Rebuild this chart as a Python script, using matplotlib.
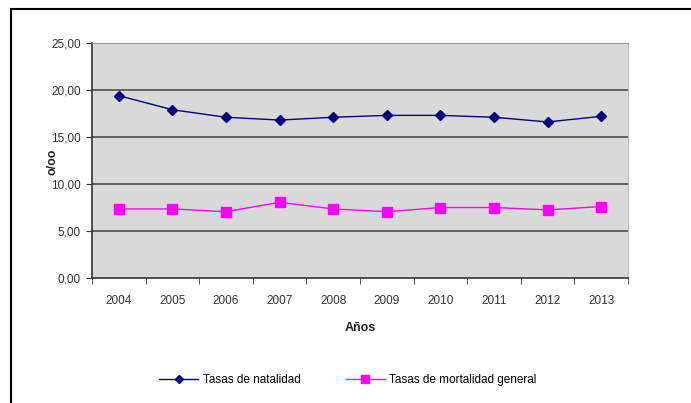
import numpy as np
import matplotlib.pyplot as plt
from matplotlib.lines import Line2D

plt.rcParams['font.family'] = ['Liberation Sans', 'DejaVu Sans']

# Data
years = ['2004', '2005', '2006', '2007', '2008', '2009', '2010', '2011', '2012', '2013']
natalidad = [19.4, 17.9, 17.1, 16.8, 17.1, 17.3, 17.3, 17.1, 16.6, 17.2]
mortalidad = [7.35, 7.35, 7.05, 8.05, 7.35, 7.05, 7.5, 7.5, 7.25, 7.6]
yticks = [0, 5, 10, 15, 20, 25]

W, H = 691, 403
fig = plt.figure(figsize=(W / 100, H / 100), dpi=100)

# outer frame (left and top edges visible)
fig.add_artist(Line2D([11 / W, 11 / W], [0, 1 - 9 / H], color='black', lw=1.5))
fig.add_artist(Line2D([11 / W, 1], [1 - 9 / H, 1 - 9 / H], color='black', lw=1.5))

ax = fig.add_axes([92 / W, 1 - 278 / H, (628 - 92) / W, (278 - 43) / H])
ax.set_facecolor('#d9d9d9')

x = np.arange(len(years))
ax.plot(x, natalidad, color='#000080', lw=1, marker='D', ms=5, label='Tasas de natalidad', zorder=3)
ax.plot(x, mortalidad, color='#ff00ff', lw=1, marker='s', ms=7, label='Tasas de mortalidad general', zorder=3)

ax.set_xlim(-0.5, len(years) - 0.5)
ax.set_ylim(0, 25)
ax.set_yticks(yticks)
ax.set_yticklabels([f'{v:.2f}'.replace('.', ',') for v in yticks])
for v in yticks[1:-1]:
    ax.axhline(v, color='#4d4d4d', lw=1.2, zorder=1)

ax.set_xticks(x)
ax.set_xticklabels(years)
ax.set_xticks(np.arange(-0.5, len(years)), minor=True)
ax.tick_params(axis='x', which='major', length=0, pad=12, labelsize=8.5, colors='#333333')
ax.tick_params(axis='x', which='minor', length=4, color='#333333')
ax.tick_params(axis='y', length=4, labelsize=8.5, colors='#333333', pad=4)

for s in ['left', 'bottom']:
    ax.spines[s].set_color('#333333')
    ax.spines[s].set_linewidth(1.2)
ax.spines['top'].set_color('#9a9a9a')
ax.spines['right'].set_color('#bdbdbd')

ax.set_xlabel('Años', fontsize=9, fontweight='bold', labelpad=11, color='#222222')
ax.set_ylabel('o/oo', fontsize=9, fontweight='bold', color='#222222')
ax.yaxis.set_label_coords(-0.062, 0.495)

fig.legend(loc='center', bbox_to_anchor=(348 / W, 1 - 380 / H), ncol=2, frameon=False,
           fontsize=8.5, columnspacing=3.8, handlelength=3.3, markerscale=0.8, handletextpad=0.4)

fig.savefig('out.png', dpi=100)
